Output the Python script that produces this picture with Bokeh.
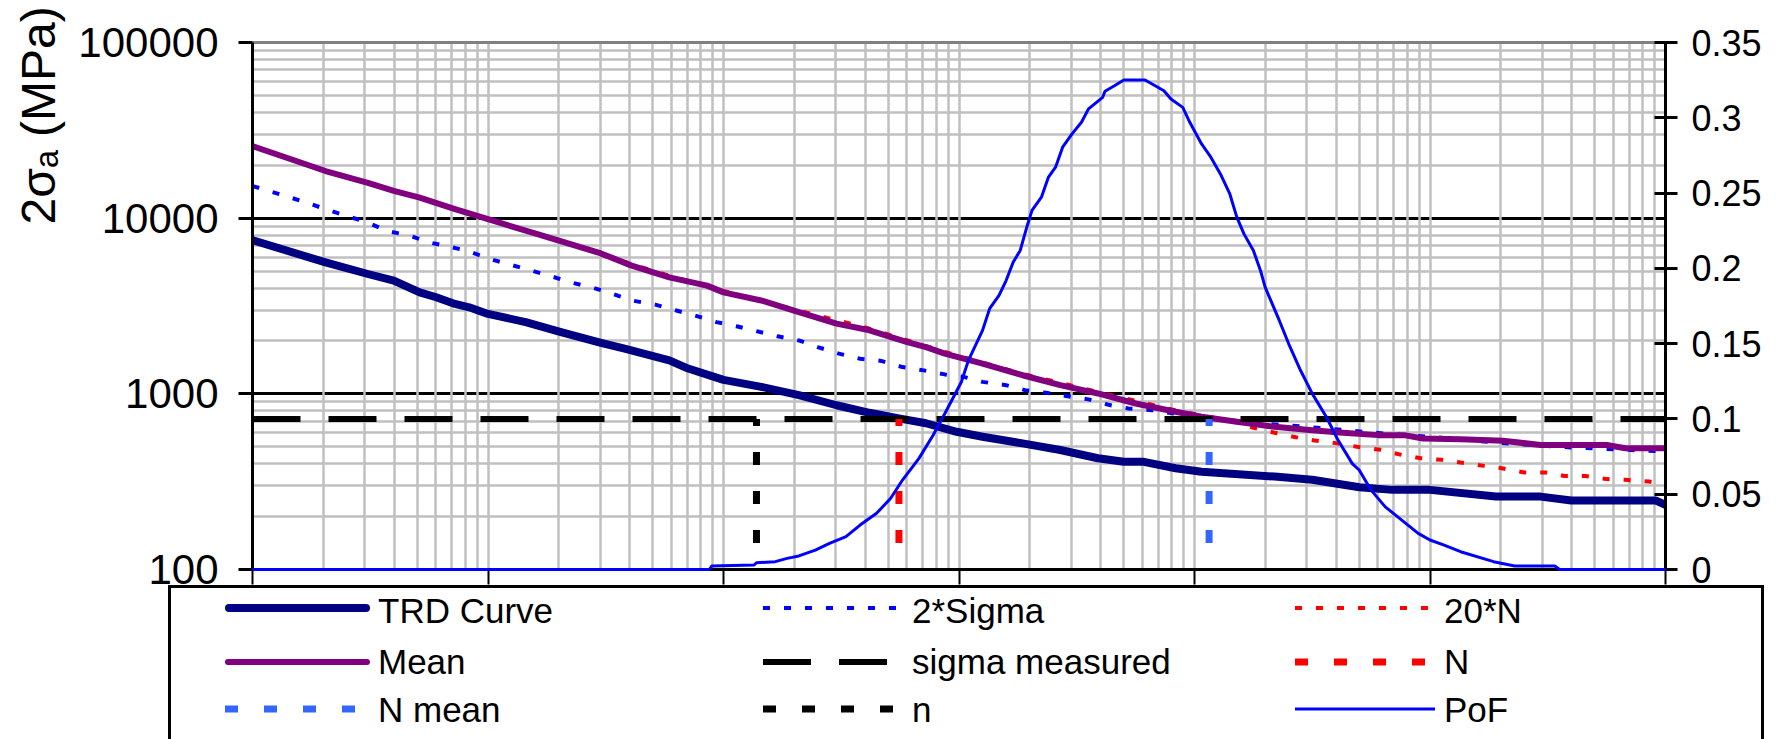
import numpy as np
from bokeh.plotting import figure
from bokeh.layouts import column
from bokeh.models import (Range1d, LinearAxis, LogAxis, LinearScale, FixedTicker, Grid,
                          Title, Div, CustomJSTickFormatter)
from bokeh.embed import file_html
from bokeh.resources import INLINE

FONT = "Liberation Sans"

# ---------------- data (x = log10 of cycles) ----------------
trd_logn = [1.0, 1.31, 1.49, 1.60, 1.71, 1.78, 1.86, 1.92, 2.0, 2.16, 2.31, 2.48, 2.58,
            2.77, 2.85, 3.0, 3.16, 3.32, 3.48, 3.62, 3.75, 3.86, 3.99, 4.10, 4.27, 4.43,
            4.59, 4.70, 4.78, 4.92, 5.03, 5.34, 5.50, 5.70, 5.84, 6.0, 6.28, 6.47, 6.60,
            6.96, 7.0]
trd_stress = [7500, 5600, 4810, 4410, 3780, 3545, 3250, 3110, 2850, 2560, 2245, 1950, 1807,
              1552, 1393, 1200, 1096, 982, 861, 780, 722, 680, 608, 570, 522, 479,
              430, 411, 411, 377, 360, 338, 324, 294, 284, 284, 260, 260, 247,
              247, 233]

mean_logn = [1.0, 1.31, 1.49, 1.60, 1.71, 1.86, 2.0, 2.21, 2.48, 2.61, 2.77, 2.93, 3.0,
             3.16, 3.32, 3.48, 3.62, 3.78, 3.86, 3.94, 4.10, 4.27, 4.43, 4.59, 4.75, 4.92,
             5.03, 5.18, 5.34, 5.50, 5.63, 5.78, 5.89, 5.97, 6.13, 6.31, 6.47, 6.75, 6.83, 7.0]
mean_stress = [25700, 18550, 15900, 14290, 13090, 11250, 9860, 8110, 6300, 5370, 4600, 4130,
               3780, 3400, 2920, 2510, 2300, 1970, 1845, 1694, 1486, 1276, 1120, 1005, 881,
               791, 740, 693, 649, 621, 600, 582, 582, 557, 551, 541, 511, 511, 490, 490]

sigma2_logn = [1.0, 1.07, 1.23, 1.31, 1.40, 1.49, 1.57, 1.67, 1.75, 1.85, 1.91, 2.01, 2.17,
               2.26, 2.35, 2.44, 2.51, 2.61, 2.71, 2.80, 2.88, 2.97, 3.06, 3.14, 3.23, 3.32,
               3.40, 3.49, 3.58, 3.67, 3.76, 3.85, 3.94, 4.02, 4.10, 4.20, 4.28, 4.37, 4.46,
               4.55, 4.64, 4.72, 4.82, 5.0, 5.3, 5.5, 5.8, 6.0, 6.3, 6.6, 7.0]
sigma2_stress = [15240, 14290, 12270, 11250, 10300, 9440, 8470, 7940, 7280, 6810, 6530, 5850,
                 5090, 4710, 4310, 4040, 3785, 3400, 3220, 2980, 2790, 2560, 2415, 2275, 2125,
                 2014, 1845, 1694, 1585, 1540, 1420, 1360, 1290, 1250, 1170, 1120, 1050, 1014,
                 970, 930, 863, 826, 807, 740, 675, 645, 595, 570, 525, 495, 470]

n20_logn = [2.48, 2.77, 3.0, 3.32, 3.62, 3.94, 4.27, 4.59, 4.92, 5.17, 5.25, 5.34, 5.43,
            5.51, 5.60, 5.69, 5.79, 5.88, 5.96, 6.05, 6.13, 6.23, 6.31, 6.40, 6.49, 6.57,
            6.66, 6.75, 6.83, 6.93, 7.0]
n20_stress = [6200, 4700, 3850, 2980, 2350, 1730, 1300, 1025, 805, 693, 641, 601, 566, 542,
              524, 500, 480, 449, 430, 421, 406, 389, 376, 357, 357, 341, 341, 327, 324,
              317, 305]

pof_logn = [1.0, 2.94, 2.95, 3.13, 3.14, 3.22, 3.27, 3.32, 3.39, 3.45, 3.52, 3.58, 3.65,
            3.71, 3.76, 3.83, 3.89, 3.94, 4.01, 4.04, 4.08, 4.10, 4.13, 4.17, 4.20, 4.23,
            4.26, 4.29, 4.31, 4.35, 4.38, 4.41, 4.44, 4.48, 4.52, 4.55, 4.61, 4.62, 4.66,
            4.70, 4.79, 4.82, 4.87, 4.90, 4.95, 4.98, 5.03, 5.07, 5.11, 5.15, 5.18, 5.21,
            5.25, 5.28, 5.30, 5.36, 5.40, 5.45, 5.50, 5.56, 5.61, 5.67, 5.70, 5.75, 5.81,
            5.88, 5.95, 6.0, 6.06, 6.13, 6.27, 6.36, 6.53, 6.55, 7.0]
pof_value = [0, 0, 0.0023, 0.0030, 0.0045, 0.0052, 0.0074, 0.0090, 0.0129, 0.0174, 0.0218,
             0.0295, 0.0373, 0.0473, 0.0594, 0.0738, 0.0892, 0.1036, 0.1245, 0.1389, 0.1522,
             0.1588, 0.1732, 0.1820, 0.1919, 0.2041, 0.2119, 0.2285, 0.2385, 0.2473, 0.2606,
             0.2672, 0.2805, 0.2893, 0.2970, 0.3059, 0.3136, 0.3176, 0.3213, 0.3251, 0.3251,
             0.3224, 0.3180, 0.3125, 0.3069, 0.2970, 0.2826, 0.2737, 0.2627, 0.2494, 0.2339,
             0.2229, 0.2119, 0.1986, 0.1875, 0.1654, 0.1499, 0.1323, 0.1168, 0.1013, 0.0858,
             0.0703, 0.0659, 0.0527, 0.0416, 0.0328, 0.0240, 0.0196, 0.0162, 0.0118, 0.0052,
             0.0023, 0.0023, 0, 0]

sigma_measured = 718          # MPa
n_logn = 3.14                 # n
N_logn = 3.745                # N
N_mean_logn = 5.062           # N mean

x_start, x_end = 1e1, 1e7
y_start, y_end = 100, 100000
pof_start, pof_end = 0, 0.35

y_tick_values = [100, 1000, 10000, 100000]
pof_tick_values = [0, 0.05, 0.1, 0.15, 0.2, 0.25, 0.3, 0.35]
x_decades = [1e1, 1e2, 1e3, 1e4, 1e5, 1e6, 1e7]

legend_columns = [["TRD Curve", "Mean", "N mean"],
                  ["2*Sigma", "sigma measured", "n"],
                  ["20*N", "N", "PoF"]]
y_title = "2σₐ (MPa)"


def cyc(v):
    return [10 ** e for e in v]


ST = {
    "TRD Curve": dict(line_color="#000080", line_width=8, line_cap="round", line_join="round"),
    "2*Sigma": dict(line_color="#0000FF", line_width=4, line_dash="7 14"),
    "20*N": dict(line_color="#FF0000", line_width=4, line_dash="7 14"),
    "Mean": dict(line_color="#800080", line_width=6, line_cap="round", line_join="round"),
    "sigma measured": dict(line_color="black", line_width=6, line_dash="48 28"),
    "N": dict(line_color="#FF0000", line_width=7, line_dash="13 26", line_dash_offset=6),
    "N mean": dict(line_color="#3366FF", line_width=7, line_dash="13 26", line_dash_offset=6),
    "n": dict(line_color="black", line_width=7, line_dash="13 26", line_dash_offset=6),
    "PoF": dict(line_color="#0000FF", line_width=3),
}

W, H_PLOT, H_LEG, OVERLAP = 1780, 594, 154, 9

p = figure(width=W, height=H_PLOT, x_axis_type="log", y_axis_type="log",
           x_range=Range1d(x_start, x_end), y_range=Range1d(y_start, y_end),
           output_backend="svg", toolbar_location=None,
           min_border_left=252, min_border_right=115, min_border_top=42,
           min_border_bottom=H_PLOT - 569, background_fill_color="white",
           border_fill_color="white")
p.outline_line_color = None
p.extra_y_ranges = {"pof": Range1d(pof_start, pof_end)}
p.extra_y_scales = {"pof": LinearScale()}

p.center = [r for r in p.center if not isinstance(r, Grid)]

minor_y = [k * 10 ** e for e in (2, 3, 4) for k in range(2, 10)]
all_x = [k * 10 ** e for e in range(1, 7) for k in range(1, 10)] + [1e7]
p.add_layout(Grid(dimension=1, ticker=FixedTicker(ticks=minor_y),
                  grid_line_color="#C0C0C0", grid_line_width=2.5))
p.add_layout(Grid(dimension=1, ticker=FixedTicker(ticks=[1000, 10000]),
                  grid_line_color="black", grid_line_width=3))
p.add_layout(Grid(dimension=0, ticker=FixedTicker(ticks=all_x),
                  grid_line_color="#C0C0C0", grid_line_width=2.5))

xa = p.xaxis[0]
xa.ticker = FixedTicker(ticks=x_decades)
xa.formatter = CustomJSTickFormatter(code="return ''")
xa.major_label_text_font_size = "0px"
xa.major_label_text_color = None
xa.major_label_standoff = 0
xa.axis_line_width = 3
xa.major_tick_out = 15
xa.major_tick_in = 0
xa.major_tick_line_width = 2
xa.minor_tick_line_color = None

ya = p.yaxis[0]
ya.ticker = FixedTicker(ticks=y_tick_values)
ya.formatter = CustomJSTickFormatter(code="return Math.round(tick).toString()")
ya.axis_line_width = 3
ya.major_tick_out = 14
ya.major_tick_in = 0
ya.major_tick_line_width = 3
ya.minor_tick_line_color = None
ya.major_label_standoff = 20
ya.major_label_text_font = FONT
ya.major_label_text_font_size = "42px"
ya.major_label_text_color = "black"

ra = LinearAxis(y_range_name="pof", ticker=FixedTicker(ticks=pof_tick_values),
                formatter=CustomJSTickFormatter(code="return Number(tick.toFixed(2)).toString()"),
                axis_line_width=3, major_tick_in=11, major_tick_out=12,
                major_tick_line_width=3, minor_tick_line_color=None,
                major_label_standoff=14, major_label_text_font=FONT,
                major_label_text_font_size="36px", major_label_text_color="black")
p.add_layout(ra, "right")

ta = LogAxis(ticker=FixedTicker(ticks=[]), formatter=CustomJSTickFormatter(code="return ''"),
             axis_line_color="#808080", axis_line_width=3, major_label_text_font_size="0px",
             major_label_text_color=None,
             major_tick_line_color=None, minor_tick_line_color=None)
p.add_layout(ta, "above")

p.add_layout(Title(text=y_title, align="left", offset=345, vertical_align="top",
                   standoff=18, text_font=FONT, text_font_size="48px",
                   text_font_style="normal", text_color="black"), "left")

p.line(cyc(trd_logn), trd_stress, **ST["TRD Curve"])
p.line(cyc(sigma2_logn), sigma2_stress, **ST["2*Sigma"])
p.line(cyc(n20_logn), n20_stress, **ST["20*N"])
p.line(cyc(mean_logn), mean_stress, **ST["Mean"])
p.line([x_start, x_end], [sigma_measured, sigma_measured], **ST["sigma measured"])
p.line([10 ** N_logn] * 2, [sigma_measured, y_start], **ST["N"])
p.line([10 ** N_mean_logn] * 2, [sigma_measured, y_start], **ST["N mean"])
p.line([10 ** n_logn] * 2, [sigma_measured, y_start], **ST["n"])
p.line(cyc(pof_logn), pof_value, y_range_name="pof", level="overlay", **ST["PoF"])

# ---------------- legend strip (below the chart) ----------------
col_glyph = [(225, 370), (763, 905), (1295, 1435)]   # sample line extents per column
col_label = [378, 912, 1444]
row_glyph_y = [23, 77, 124]
row_text_y = [26, 77, 125]

parts = [f'<div style="position:relative;z-index:2;width:{W}px;height:{H_LEG}px;'
         f'overflow:hidden;background:white;margin:0;padding:0;">',
         '<div style="position:absolute;left:168px;top:0px;width:1596px;height:260px;'
         'box-sizing:border-box;border:3px solid black;"></div>']
for ci, labels in enumerate(legend_columns):
    x0, x1 = col_glyph[ci]
    for ri, lab in enumerate(labels):
        s = ST[lab]
        lw = s["line_width"]
        cap = s.get("line_cap", "butt")
        inset = lw / 2 if cap == "round" else 0
        dash = s.get("line_dash", "")
        dash_attr = f' stroke-dasharray="{dash}"' if dash else ""
        parts.append(
            f'<svg style="position:absolute;left:{x0}px;top:{row_glyph_y[ri] - 10}px;'
            f'overflow:visible" width="{x1 - x0}" height="20">'
            f'<line x1="{inset}" y1="10" x2="{x1 - x0 - inset}" y2="10" '
            f'stroke="{s["line_color"]}" stroke-width="{lw}" stroke-linecap="{cap}"'
            f'{dash_attr}/></svg>')
        parts.append(
            f'<span style="position:absolute;left:{col_label[ci]}px;top:{row_text_y[ri] - 20}px;'
            f'font-family:\'{FONT}\';font-size:35px;line-height:40px;color:black;'
            f'white-space:nowrap;">{lab}</span>')
parts.append('</div>')

legend_div = Div(text="".join(parts), width=W, height=H_LEG,
                 margin=(-OVERLAP, 0, 0, 0))

layout = column(p, legend_div, spacing=0)
open("out.html", "w").write(file_html(layout, INLINE))
